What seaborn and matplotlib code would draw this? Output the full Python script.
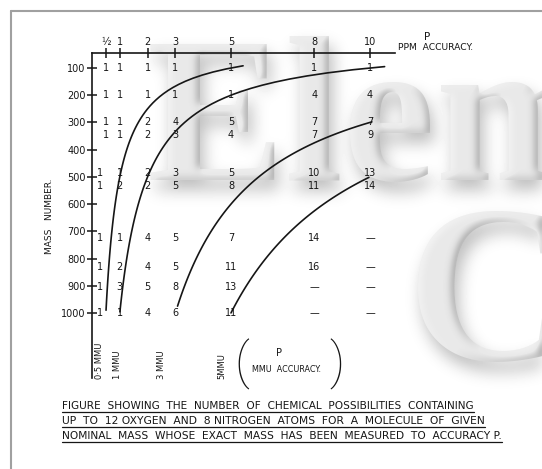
import numpy as np
import pandas as pd
import matplotlib
matplotlib.use("Agg")
import matplotlib.pyplot as plt
import seaborn as sns

sns.set_theme(style="white")
plt.rcParams["font.family"] = ["DejaVu Sans"]

# ---- data -------------------------------------------------------------
ppm_ticks = [0.5, 1, 2, 3, 5, 8, 10]
ppm_tick_labels = ["½", "1", "2", "3", "5", "8", "10"]
mass_ticks = [100, 200, 300, 400, 500, 600, 700, 800, 900, 1000]

# nominal mass of each tabulated row
row_mass = [100, 200, 300, 345, 485, 535, 725, 830, 905, 1000]
# number of chemical possibilities, one list per row, one entry per ppm column
table_counts = [
    ["1", "1", "1", "1", "1", "1", "1"],
    ["1", "1", "1", "1", "1", "4", "4"],
    ["1", "1", "2", "4", "5", "7", "7"],
    ["1", "1", "2", "3", "4", "7", "9"],
    ["1", "1", "2", "3", "5", "10", "13"],
    ["1", "2", "2", "5", "8", "11", "14"],
    ["1", "1", "4", "5", "7", "14", "—"],
    ["1", "2", "4", "5", "11", "16", "—"],
    ["1", "3", "5", "8", "13", "—", "—"],
    ["1", "1", "4", "6", "11", "—", "—"],
]

# lines of constant absolute accuracy (milli mass units)
mmu_levels = [0.5, 1, 3, 5]
mmu_labels = ["0·5 MMU", "1 MMU", "3 MMU", "5MMU"]
curve_mass_start = [990, 996, 975, 1000]
curve_mass_end = [92, 95, 298, 502]

caption_lines = [
    "FIGURE  SHOWING  THE  NUMBER  OF  CHEMICAL  POSSIBILITIES  CONTAINING",
    "UP  TO  12 OXYGEN  AND  8 NITROGEN  ATOMS  FOR  A  MOLECULE  OF  GIVEN",
    "NOMINAL  MASS  WHOSE  EXACT  MASS  HAS  BEEN  MEASURED  TO  ACCURACY P.",
]

wm_words = ["Elem", "C"]

# ---- figure -----------------------------------------------------------
W, H = 542, 469
INK = "#161616"


def pixel_axes(f):
    a = f.add_axes([0, 0, 1, 1])
    a.set_xlim(0, W)
    a.set_ylim(H, 0)
    a.axis("off")
    return a


def blur(a, sigma):
    r = int(3 * sigma)
    k = np.exp(-0.5 * (np.arange(-r, r + 1) / sigma) ** 2)
    k /= k.sum()
    a = np.apply_along_axis(lambda v: np.convolve(v, k, mode="same"), 0, a)
    a = np.apply_along_axis(lambda v: np.convolve(v, k, mode="same"), 1, a)
    return a


def shift(a, dy, dx):
    out = np.zeros_like(a)
    out[dy:, dx:] = a[:a.shape[0] - dy, :a.shape[1] - dx]
    return out


wm_pos = [(147, 180), (407, 360)]
wm_size = [150, 162]
wm_font = dict(family="Liberation Serif", weight="bold", ha="left", va="baseline")

# coverage mask of the embossed lettering, used for its shadow and bevel
mf = plt.figure(figsize=(W / 100, H / 100), dpi=100)
mf.patch.set_facecolor("black")
ma = pixel_axes(mf)
for word, (x, y), s in zip(wm_words, wm_pos, wm_size):
    ma.text(x, y, word, color="white", fontsize=s, **wm_font)
mf.canvas.draw()
mask = np.asarray(mf.canvas.buffer_rgba())[..., 0].astype(float) / 255.0
plt.close(mf)

shadow = blur(shift(mask, 10, 4), 8)
backdrop = 1.0 - 0.26 * shadow

soft = blur(mask, 4)
gx = np.gradient(soft, axis=1)
gy = np.gradient(soft, axis=0)
edge = -(gx + 0.5 * gy) * 3.5
bevel = np.zeros((H, W, 4))
dark = np.clip(edge, 0, 0.35)
light = np.clip(-edge, 0, 0.5)
bevel[..., :3] = np.where(edge[..., None] > 0, 0.4, 1.0)
bevel[..., 3] = mask * np.where(edge > 0, dark, light)

fig = plt.figure(figsize=(W / 100, H / 100), dpi=100)
fig.patch.set_facecolor("white")
bg = pixel_axes(fig)
bg.set_zorder(0)
bg.imshow(backdrop, cmap="gray", vmin=0, vmax=1, extent=(0, W, H, 0),
          interpolation="bilinear", zorder=0, aspect="auto")
for word, (x, y), s in zip(wm_words, wm_pos, wm_size):
    bg.text(x, y, word, color="#e9e9e9", fontsize=s, zorder=1, **wm_font)
bg.imshow(bevel, extent=(0, W, H, 0), interpolation="bilinear", zorder=2, aspect="auto")
bg.set_xlim(0, W)
bg.set_ylim(H, 0)

# page frame
bg.plot([11, W], [11, 11], color="#a0a0a0", lw=1.5, zorder=3)
bg.plot([11, 11], [11, H], color="#a0a0a0", lw=1.5, zorder=3)

# ---- chart axes ---------------------------------------------------------
ax = fig.add_axes([92 / W, 1 - 378 / H, (395 - 92) / W, (378 - 53) / H])
ax.set_zorder(5)
ax.set_facecolor("none")

rows = []
for mmu, m0, m1 in zip(mmu_levels, curve_mass_start, curve_mass_end):
    masses = np.linspace(m0, m1, 80)
    for m in masses:
        rows.append({"curve": f"{mmu} MMU", "mass": m, "ppm": 1000.0 * mmu / m})
curve_df = pd.DataFrame(rows)
sns.lineplot(data=curve_df, x="ppm", y="mass", hue="curve", sort=False,
             estimator=None, palette=[INK] * len(mmu_levels), legend=False,
             linewidth=1.2, ax=ax)

for m, counts in zip(row_mass, table_counts):
    for j, (p, s) in enumerate(zip(ppm_ticks, counts)):
        dx = -6 if (j == 0 and m > 450) else 0
        ax.annotate(s, (p, m), xytext=(dx * 0.72, 0), textcoords="offset points",
                    ha="center", va="center", fontsize=7, color=INK)

ax.set_xlim(0, 10.9)
ax.set_ylim(1239, 45)
ax.set_xlabel("")
ax.set_ylabel("")
ax.xaxis.tick_top()
ax.set_xticks(ppm_ticks)
ax.set_xticklabels(ppm_tick_labels)
ax.set_yticks(mass_ticks)
ax.set_yticklabels([str(v) for v in mass_ticks])
ax.tick_params(axis="x", direction="inout", length=7, width=1.1, pad=1,
               labelsize=7, colors=INK, top=True, bottom=False)
ax.tick_params(axis="y", direction="inout", length=7, width=1.1, pad=1,
               labelsize=7, colors=INK, left=True)
for side in ("bottom", "right"):
    ax.spines[side].set_visible(False)
for side in ("left", "top"):
    ax.spines[side].set_color(INK)
    ax.spines[side].set_linewidth(1.2)

# ---- labels ----------------------------------------------------------------
lab = dict(color=INK, zorder=6)
bg.text(427, 37, "P", fontsize=7.5, ha="center", va="center", **lab)
bg.text(398, 48, "PPM  ACCURACY.", fontsize=6.6, ha="left", va="center", **lab)
bg.text(50, 216, "MASS   NUMBER.", fontsize=6.5, rotation=90,
        ha="center", va="center", **lab)

for txt, x in zip(mmu_labels, [100, 117, 162, 222]):
    bg.text(x, 379, txt, fontsize=6, rotation=90, ha="center", va="bottom", **lab)
paren = dict(fontsize=36, family=["Roboto", "DejaVu Sans"], weight="light",
             ha="center", va="center")
bg.text(242, 364, "(", **paren, **lab)
bg.text(337, 364, ")", **paren, **lab)
bg.text(279, 353, "P", fontsize=7, ha="center", va="center", **lab)
bg.text(252, 369, "MMU  ACCURACY.", fontsize=5.8, ha="left", va="center", **lab)

cap_y = [406, 421, 436]
cap_right = [477, 487, 502]
fig.canvas.draw()
renderer = fig.canvas.get_renderer()
for line, y, xr in zip(caption_lines, cap_y, cap_right):
    t = bg.text(62, y, line, fontsize=6, ha="left", va="center", **lab)
    w = t.get_window_extent(renderer).width
    t.set_fontsize(6 * (xr - 62) / w)
    bb = t.get_window_extent(renderer)
    uy = H - bb.y0 + 1
    bg.plot([bb.x0, bb.x1], [uy, uy], color=INK, lw=0.9, zorder=6)

fig.savefig("out.png", dpi=100)
